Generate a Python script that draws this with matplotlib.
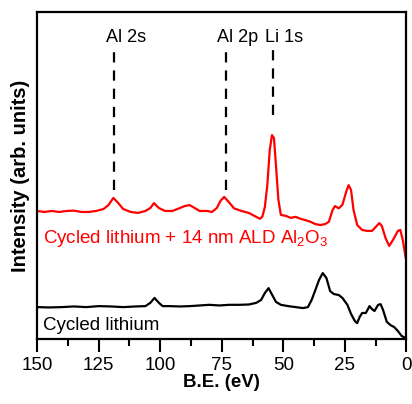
import matplotlib
matplotlib.use("Agg")
import matplotlib.pyplot as plt
from matplotlib.ticker import MultipleLocator

plt.rcParams["font.family"] = ["Liberation Sans", "DejaVu Sans"]
plt.rcParams["mathtext.fontset"] = "custom"
plt.rcParams["mathtext.rm"] = "Liberation Sans"
plt.rcParams["mathtext.default"] = "regular"

# binding energy (eV) and intensity (arb. units)
red_be = [150, 147, 144, 141, 138, 135, 132, 129, 126, 123, 121, 119, 117, 115,
          112, 109, 106, 104, 102.5, 100.5, 98, 95, 92, 90, 88, 86, 84, 81, 79,
          77, 75.5, 74, 72, 70, 67, 64, 61, 59.5, 58.5, 57.5, 56.5, 55.5, 54.6,
          53.8, 53, 52, 51, 49, 47, 45, 43, 41, 39, 37, 35, 33, 31.5, 30, 29,
          27.5, 26, 24.5, 23.5, 22.5, 21.5, 20, 18, 16, 14, 12.5, 11, 10, 8.5,
          7, 5.5, 3.5, 2.5, 1.5, 0.3]
red_int = [39.3, 39.0, 39.3, 39.0, 39.3, 39.4, 39.0, 39.0, 39.3, 39.9, 41.1, 43.3,
           41.7, 39.9, 39.0, 38.7, 39.3, 40.2, 41.7, 40.2, 39.3, 39.3, 40.2, 40.8,
           41.1, 40.2, 39.3, 39.3, 39.0, 40.2, 42.4, 43.6, 41.9, 40.1, 39.3, 38.7,
           37.5, 36.9, 37.6, 40.5, 47.2, 58.0, 62.5, 61.6, 53.4, 42.7, 38.1, 37.8,
           37.2, 37.5, 36.9, 36.5, 36.0, 35.3, 35.0, 35.3, 36.0, 39.6, 40.8, 40.1,
           41.2, 45.1, 47.2, 45.7, 39.6, 35.0, 33.5, 33.2, 33.2, 34.4, 35.6, 34.7,
           31.0, 28.6, 30.4, 33.2, 33.5, 30.4, 24.9]

black_be = [150, 145, 140, 135, 130, 125, 120, 115, 110, 106, 104, 102.3, 100.5,
            99, 96, 92, 88, 84, 80, 76, 72, 68, 64, 61, 59, 57.5, 56, 54.5, 53,
            51, 48, 45, 42, 40, 38.5, 37, 35.5, 34, 32.5, 31, 29.5, 27.5, 26, 24,
            22.5, 21, 20, 19, 18, 16.5, 15, 14, 13, 11.5, 10.5, 9.5, 8, 6.5, 5,
            3.5, 2, 0.5]
black_int = [9.9, 9.8, 9.9, 10.1, 9.9, 10.2, 10.1, 9.9, 10.1, 10.2, 11.2, 12.7,
             11.2, 10.2, 10.2, 10.1, 10.2, 10.4, 10.6, 10.4, 10.6, 10.6, 10.7,
             11.2, 12.1, 14.2, 15.7, 13.6, 11.5, 10.6, 10.2, 9.9, 9.6, 9.9, 12.1,
             15.1, 18.2, 20.3, 18.8, 14.8, 13.9, 13.6, 12.7, 10.6, 7.8, 5.7, 5.0,
             6.9, 8.1, 8.1, 10.2, 9.3, 8.7, 10.6, 10.8, 9.0, 5.4, 4.4, 3.8, 2.6,
             1.1, 0.5]

peak_names = ["Al 2s", "Al 2p", "Li 1s"]
peak_be = [118.6, 73.4, 54.2]
peak_low = [45.7, 45.7, 68.7]

fig = plt.figure(figsize=(4.12, 4.04), dpi=100)
ax = fig.add_axes([0.0898, 0.1597, 0.8968, 0.8094])

ax.plot(red_be, red_int, color="#ff0000", lw=1.6)
ax.plot(black_be, black_int, color="black", lw=1.6)

for name, be, low in zip(peak_names, peak_be, peak_low):
    ax.plot([be, be], [low, 88.5], color="black", lw=1.6, dashes=[4.6, 3.6])
    ax.text(be + 3.4, 92.2, name, fontsize=13, ha="left", va="center")

ax.text(0.016, 0.31, "Cycled lithium + 14 nm ALD Al$_2$O$_3$", color="#ff0000",
        fontsize=13.5, transform=ax.transAxes, va="center")
ax.text(0.016, 0.044, "Cycled lithium", color="black", fontsize=13.5,
        transform=ax.transAxes, va="center")

ax.set_xlim(150, 0)
ax.set_ylim(0, 100)
ax.xaxis.set_major_locator(MultipleLocator(25))
ax.xaxis.set_minor_locator(MultipleLocator(12.5))
ax.tick_params(axis="x", which="major", direction="out", length=9.5, width=1.5,
               labelsize=13.5, pad=3)
ax.tick_params(axis="x", which="minor", direction="out", length=5, width=1.5)
ax.set_yticks([])
for s in ax.spines.values():
    s.set_linewidth(1.6)

ax.set_xlabel("B.E. (eV)", fontsize=13.5, fontweight="bold", labelpad=0)
ax.set_ylabel("Intensity (arb. units)", fontsize=14.5, fontweight="bold", labelpad=5)

fig.savefig("out.png", dpi=100)
